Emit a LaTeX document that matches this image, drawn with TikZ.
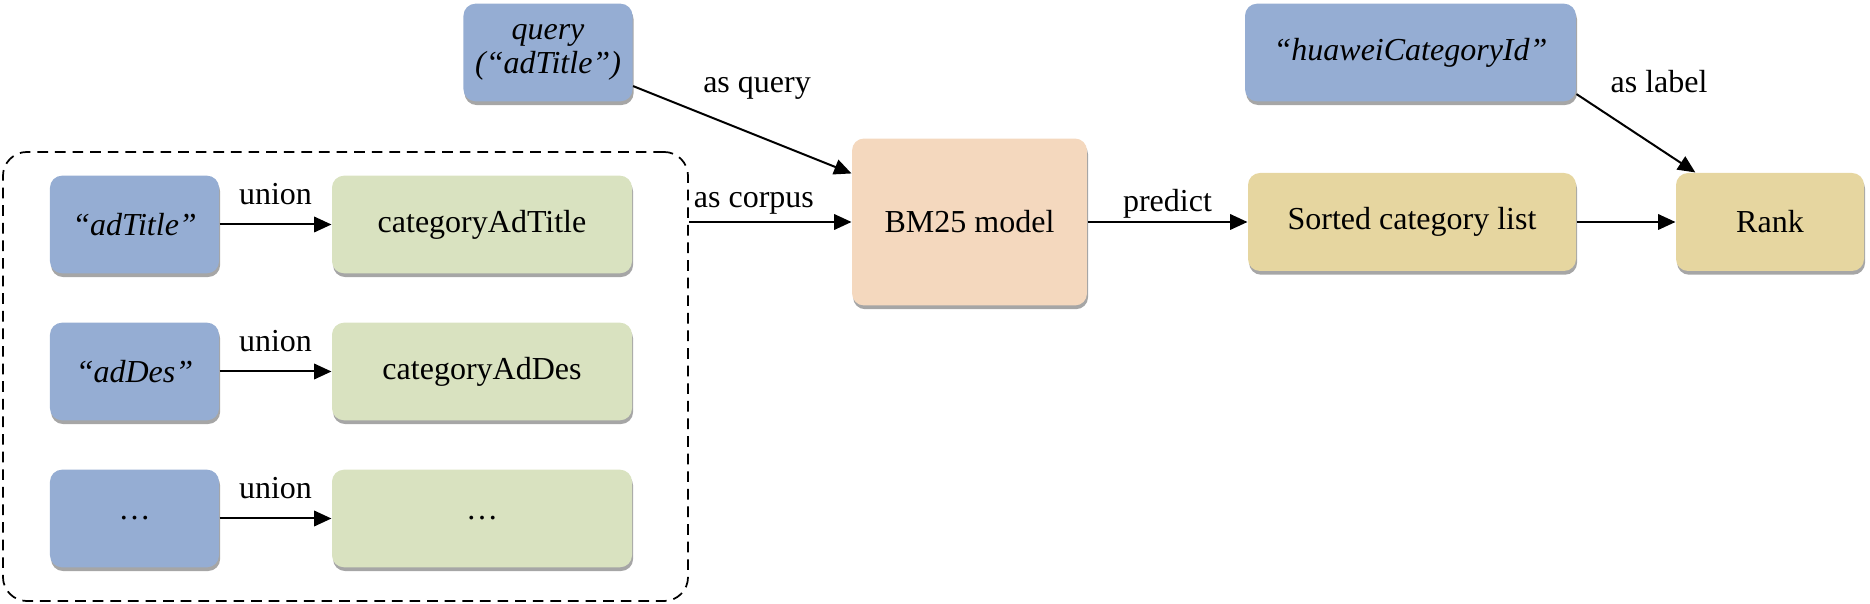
\documentclass[tikz,border=0pt]{standalone}
\usepackage{fontspec}
\setmainfont{Liberation Serif}
\usetikzlibrary{positioning, arrows.meta, shadows}
\definecolor{boxblue}{RGB}{149,173,211}
\definecolor{boxgreen}{RGB}{217,226,192}
\definecolor{boxpeach}{RGB}{244,216,190}
\definecolor{boxgold}{RGB}{230,214,160}
\tikzset{
  block/.style={rounded corners=4.5pt, inner sep=2pt, align=center,
    font=\fontsize{12}{12.5}\selectfont,
    drop shadow={shadow xshift=0.4pt, shadow yshift=-1.4pt, fill=black, opacity=0.35}},
  inbox/.style={block, fill=boxblue, minimum width=63.4pt, minimum height=36.6pt,
    font=\fontsize{12}{12.5}\selectfont\itshape},
  setbox/.style={block, fill=boxgreen, minimum width=112.5pt, minimum height=36.6pt},
  model/.style={block, fill=boxpeach, minimum width=88.1pt, minimum height=62.6pt},
  outbox/.style={block, fill=boxgold, minimum height=36.75pt},
  group/.style={draw, line width=0.65pt, dash pattern=on 4pt off 2.6pt,
    rounded corners=9pt, minimum width=256.9pt, minimum height=168.4pt},
  arr/.style={-{Triangle[length=6.5pt,width=5.8pt]}, line width=0.75pt},
  lbl/.style={font=\fontsize{12}{13}\selectfont, inner sep=0pt}
}
\begin{document}
\begin{tikzpicture}[x=0.375pt, y=-0.375pt]
    \useasboundingbox (0,0) rectangle (1870,604);
    \node[group] (corpus) at (345.5,376.5) {};
    \node[inbox] (title) at (134.5,224.5) {“adTitle”};
    \node[setbox] (cattitle) at (482,224.5) {categoryAdTitle};
    \node[inbox] (des) at (134.5,371.5) {“adDes”};
    \node[setbox] (catdes) at (482,371.5) {categoryAdDes};
    \node[inbox] (more) at (134.5,518.5) {\upshape …};
    \node[setbox] (catmore) at (482,518.5) {…};
    \foreach \a/\b in {title/cattitle, des/catdes, more/catmore}
        \draw[arr] (\a) -- node[lbl, above=7pt] {union} (\b);
    \node[inbox] (query) at (548,52.5) {query\\(“adTitle”)};
    \node[model] (bm) at (969.5,222) {BM25 model};
    \node[outbox, minimum width=123pt] (sorted) at (1412,222) {Sorted category list};
    \node[inbox, minimum width=124.1pt] (hwid) at (1410.5,52.5) {“huaweiCategoryId”};
    \node[outbox, minimum width=70.5pt] (rank) at (1770,222) {Rank};
    \draw[arr] ([yshift=-12.6pt]query.east) -- ([yshift=18.2pt]bm.west);
    \node[lbl, anchor=base] (asquery) at (757,93) {as query};
    \draw[arr] (bm.west -| corpus.east) -- node[lbl, above=2.4pt, pos=0.4] (ascorpus) {as corpus} (bm.west);
    \draw[arr] (bm) -- node[lbl, above=1pt] (predict) {predict} (sorted);
    \draw[arr] (sorted) -- (rank);
    \draw[arr] ([yshift=-15.6pt]hwid.east) -- ([xshift=-28pt]rank.north);
    \node[lbl, anchor=base] (aslabel) at (1659,93) {as label};
\end{tikzpicture}
\end{document}
